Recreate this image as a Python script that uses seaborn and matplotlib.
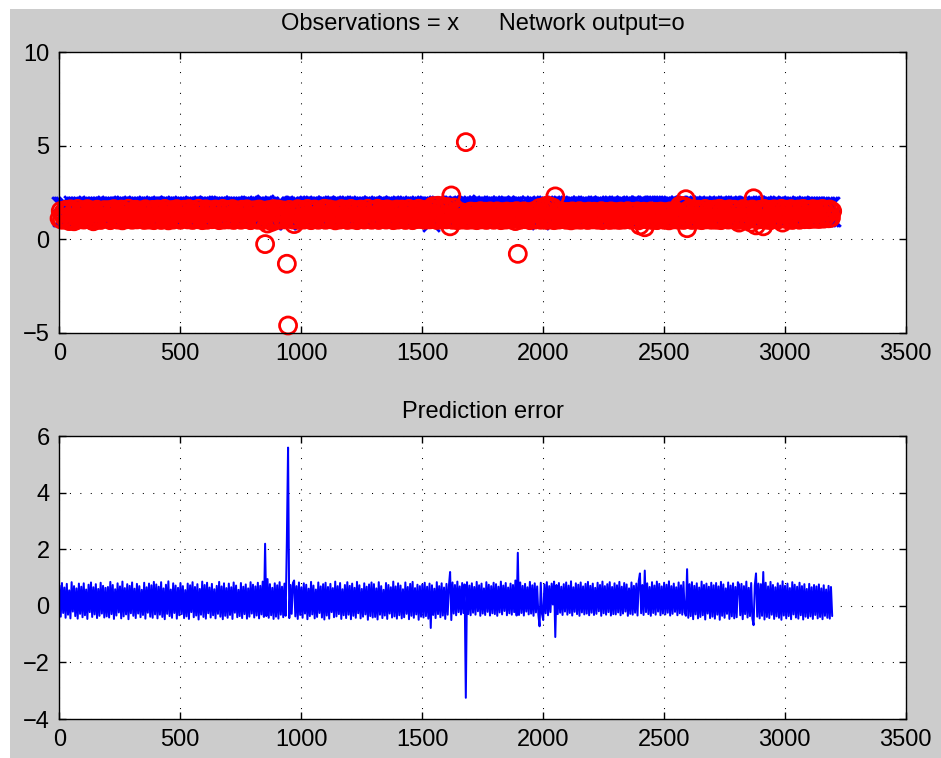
import numpy as np
import matplotlib
matplotlib.use("Agg")
import matplotlib.pyplot as plt
import seaborn as sns

# one sample every 5 steps
sample_step = 5

# network output (red circles), rows of 20 samples = 100 x-units each
network_output = [
    1.12, 1.52, 1.05, 1.41, 1.18, 1.58, 1.08, 1.47, 0.98, 1.61, 1.04, 1.38, 0.97, 1.50, 1.20, 1.63, 1.07, 1.44, 1.16, 1.55,
    1.06, 1.48, 1.26, 1.62, 1.09, 1.37, 1.05, 1.54, 0.97, 1.45, 1.08, 1.59, 1.22, 1.50, 1.04, 1.42, 1.13, 1.57, 1.19, 1.51,
    1.16, 1.57, 1.03, 1.43, 1.10, 1.62, 1.24, 1.49, 1.06, 1.39, 1.14, 1.60, 1.02, 1.53, 1.19, 1.46, 1.08, 1.64, 1.11, 1.40,
    1.05, 1.50, 1.21, 1.59, 1.07, 1.42, 1.13, 1.55, 1.26, 1.47, 1.04, 1.61, 1.17, 1.38, 1.06, 1.53, 1.10, 1.58, 1.03, 1.45,
    1.09, 1.60, 1.15, 1.46, 1.04, 1.54, 1.20, 1.63, 1.08, 1.43, 1.02, 1.51, 1.25, 1.57, 1.06, 1.40, 1.12, 1.62, 1.18, 1.48,
    1.05, 1.44, 1.13, 1.59, 1.27, 1.52, 1.07, 1.62, 1.11, 1.37, 1.04, 1.56, 1.16, 1.49, 1.08, 1.64, 1.22, 1.46, 1.03, 1.54,
    1.10, 1.61, 1.05, 1.41, 1.18, 1.57, 1.08, 1.48, 1.23, 1.60, 1.12, 1.43, 1.03, 1.53, 1.15, 1.63, 1.06, 1.50, 1.20, 1.58,
    1.07, 1.47, 1.17, 1.62, 1.04, 1.39, 1.12, 1.55, 1.26, 1.51, 1.05, 1.59, 1.15, 1.44, 1.09, 1.61, 1.21, 1.53, 1.03, 1.42,
    1.09, 1.56, 1.14, 1.49, 1.05, 1.60, 1.12, 1.46, 1.03, 1.54, -0.25, 1.51, 0.85, 1.57, 1.08, 1.48, 0.95, 1.62, 1.06, 1.53,
    1.11, 1.60, 1.05, 1.46, 1.15, 1.55, 1.07, 1.50, -1.30, -4.60, 1.58, 1.10, 1.43, 1.06, 0.82, 1.52, 1.13, 1.62, 1.04, 1.48,
    1.17, 1.58, 1.06, 1.42, 1.09, 1.63, 1.21, 1.52, 1.03, 1.45, 1.11, 1.60, 1.25, 1.55, 1.05, 1.40, 1.14, 1.57, 1.08, 1.64,
    1.05, 1.49, 1.16, 1.61, 1.08, 1.37, 1.19, 1.56, 1.02, 1.52, 1.13, 1.44, 1.06, 1.62, 1.24, 1.48, 1.10, 1.59, 1.04, 1.46,
    1.12, 1.63, 1.07, 1.50, 1.18, 1.57, 1.03, 1.41, 1.10, 1.60, 1.22, 1.53, 1.06, 1.45, 1.15, 1.64, 1.09, 1.51, 1.05, 1.56,
    1.08, 1.54, 1.20, 1.64, 1.04, 1.46, 1.13, 1.58, 1.26, 1.49, 1.06, 1.61, 1.10, 1.42, 1.17, 1.56, 1.03, 1.52, 1.14, 1.60,
    1.06, 1.48, 1.11, 1.60, 1.24, 1.55, 1.04, 1.43, 1.16, 1.63, 1.08, 1.50, 1.03, 1.57, 1.19, 1.45, 1.09, 1.64, 1.12, 1.53,
    1.09, 1.57, 1.05, 1.52, 1.15, 1.61, 1.07, 1.65, 1.10, 1.78, 1.21, 1.59, 1.04, 1.80, 1.13, 1.56, 1.06, 1.76, 1.18, 1.62,
    1.07, 1.72, 1.12, 0.70, 2.35, 1.05, 1.70, 1.10, 1.48, 1.03, 1.40, 1.15, 1.46, 1.06, 1.42, 1.09, 5.20, 1.04, 1.44, 1.11,
    1.49, 1.06, 1.40, 1.16, 1.47, 1.03, 1.36, 1.10, 1.51, 1.07, 1.43, 1.20, 1.48, 1.04, 1.38, 1.09, 1.50, 1.13, 1.41, 1.05,
    1.45, 1.08, 1.50, 1.14, 1.39, 1.03, 1.46, 1.11, 1.35, 1.06, 1.49, 1.18, 1.42, 1.07, 1.47, 1.10, 1.38, 0.98, 1.51, -0.77,
    1.48, 1.05, 1.41, 1.12, 1.50, 1.08, 1.37, 1.17, 1.46, 1.03, 1.43, 1.10, 1.51, 1.06, 1.39, 1.14, 1.47, 1.68, 1.05, 1.44,
    1.60, 1.08, 1.78, 1.04, 1.80, 1.12, 1.74, 1.07, 1.70, 1.03, 2.30, 1.10, 1.45, 1.06, 1.41, 1.15, 1.48, 1.09, 1.37, 1.05,
    1.47, 1.11, 1.42, 1.02, 1.50, 1.17, 1.38, 1.06, 1.45, 1.09, 1.51, 1.05, 1.40, 1.14, 1.46, 1.07, 1.43, 1.04, 1.49, 1.12,
    1.40, 1.07, 1.48, 1.19, 1.44, 1.05, 1.36, 1.10, 1.51, 1.03, 1.42, 1.13, 1.47, 1.08, 1.39, 1.04, 1.50, 1.16, 1.45, 1.06,
    1.46, 1.10, 1.39, 1.04, 1.49, 1.15, 1.43, 1.06, 1.37, 1.09, 1.51, 1.21, 1.44, 1.05, 1.47, 1.12, 1.40, 1.07, 1.50, 1.02,
    0.75, 1.42, 1.10, 1.48, 0.65, 1.38, 1.07, 1.45, 1.16, 1.50, 1.04, 1.41, 1.11, 1.47, 1.03, 1.36, 1.08, 1.49, 1.14, 1.43,
    1.05, 1.46, 1.09, 1.40, 1.02, 1.50, 1.13, 1.44, 1.07, 1.37, 1.17, 1.49, 1.05, 1.80, 1.10, 1.78, 1.04, 1.75, 2.15, 0.60,
    1.57, 1.08, 1.51, 1.04, 1.62, 1.12, 1.46, 1.06, 1.59, 1.18, 1.54, 1.03, 1.49, 1.10, 1.63, 1.07, 1.43, 1.15, 1.58, 1.05,
    1.53, 1.11, 1.60, 1.05, 1.47, 1.14, 1.64, 1.03, 1.50, 1.09, 1.57, 1.21, 1.44, 1.06, 1.61, 1.12, 1.52, 1.07, 1.59, 1.16,
    1.55, 1.04, 0.90, 1.49, 1.08, 1.62, 1.13, 1.45, 1.03, 1.56, 1.19, 1.51, 0.90, 1.60, 2.20, 1.10, 0.75, 1.53, 1.07, 1.58,
    1.09, 1.51, 0.70, 1.63, 1.05, 1.54, 1.15, 1.58, 1.03, 1.47, 1.10, 1.61, 1.17, 1.52, 1.06, 1.57, 1.12, 1.64, 0.90, 1.49,
    1.12, 1.59, 1.07, 1.52, 1.19, 1.62, 1.04, 1.46, 1.09, 1.56, 1.15, 1.60, 1.05, 1.49, 1.13, 1.63, 1.08, 1.53, 1.22, 1.58,
    1.08, 1.52, 1.17, 1.62, 1.10, 1.47, 1.14, 1.59, 1.09, 1.54, 1.20, 1.63, 1.11, 1.50, 1.25, 1.57, 1.13, 1.60, 1.16, 1.51,
]

# prediction error = observation - network output
prediction_error = [
    0.72, -0.38, 0.81, -0.25, 0.65, -0.42, 0.78, -0.31, 0.55, -0.44, 0.84, -0.20, 0.70, -0.36, 0.62, -0.45, 0.79, -0.28, 0.68, -0.40,
    0.80, -0.33, 0.58, -0.46, 0.75, -0.22, 0.83, -0.39, 0.66, -0.30, 0.77, -0.43, 0.60, -0.35, 0.82, -0.27, 0.71, -0.41, 0.64, -0.37,
    0.67, -0.41, 0.85, -0.29, 0.74, -0.46, 0.59, -0.34, 0.80, -0.23, 0.69, -0.44, 0.86, -0.37, 0.63, -0.30, 0.77, -0.47, 0.71, -0.26,
    0.83, -0.35, 0.61, -0.43, 0.78, -0.27, 0.70, -0.40, 0.57, -0.32, 0.82, -0.45, 0.66, -0.24, 0.79, -0.38, 0.73, -0.42, 0.85, -0.30,
    0.76, -0.44, 0.68, -0.31, 0.84, -0.39, 0.62, -0.47, 0.75, -0.28, 0.87, -0.36, 0.58, -0.42, 0.80, -0.25, 0.72, -0.45, 0.64, -0.33,
    0.81, -0.29, 0.70, -0.43, 0.56, -0.37, 0.79, -0.46, 0.73, -0.22, 0.84, -0.40, 0.67, -0.34, 0.77, -0.48, 0.60, -0.31, 0.86, -0.39,
    0.74, -0.45, 0.82, -0.26, 0.65, -0.41, 0.78, -0.33, 0.59, -0.44, 0.71, -0.28, 0.85, -0.38, 0.69, -0.47, 0.80, -0.35, 0.63, -0.42,
    0.79, -0.32, 0.66, -0.46, 0.83, -0.24, 0.72, -0.40, 0.57, -0.36, 0.81, -0.43, 0.68, -0.29, 0.76, -0.45, 0.62, -0.38, 0.84, -0.27,
    0.75, -0.41, 0.69, -0.34, 0.82, -0.44, 0.71, -0.30, 0.86, -0.39, 2.20, -0.36, 0.95, -0.42, 0.77, -0.33, 0.64, -0.46, 0.80, -0.38,
    0.73, -0.45, 0.84, -0.31, 0.68, -0.40, 0.79, -0.35, 2.30, 5.60, -0.43, 0.74, -0.28, 0.81, 0.90, -0.37, 0.70, -0.46, 0.83, -0.32,
    0.66, -0.42, 0.80, -0.27, 0.75, -0.47, 0.61, -0.36, 0.85, -0.30, 0.72, -0.44, 0.58, -0.39, 0.83, -0.25, 0.69, -0.41, 0.77, -0.48,
    0.82, -0.34, 0.67, -0.45, 0.78, -0.22, 0.63, -0.40, 0.86, -0.37, 0.70, -0.29, 0.81, -0.46, 0.59, -0.33, 0.74, -0.43, 0.84, -0.31,
    0.71, -0.47, 0.79, -0.35, 0.64, -0.42, 0.85, -0.26, 0.73, -0.44, 0.60, -0.38, 0.80, -0.30, 0.68, -0.49, 0.76, -0.36, 0.83, -0.41,
    0.77, -0.39, 0.62, -0.48, 0.84, -0.31, 0.70, -0.43, 0.57, -0.34, 0.81, -0.46, 0.74, -0.27, 0.66, -0.41, 0.86, -0.37, 0.69, -0.45,
    0.80, -0.33, 0.72, -0.44, 0.59, -0.40, 0.83, -0.28, 0.67, -0.47, 0.78, -0.35, 0.85, -0.42, 0.63, -0.30, 0.75, -0.49, 0.70, -0.38,
    0.76, -0.41, 0.82, -0.36, 0.68, -0.45, 0.79, -0.78, 0.73, -0.32, 0.61, -0.43, 0.84, -0.29, 0.70, -0.40, 0.80, -0.34, 0.65, -0.46,
    0.78, -0.31, 0.70, 1.20, -0.50, 0.83, -0.27, 0.74, -0.33, 0.86, -0.22, 0.69, -0.30, 0.81, -0.25, 0.76, -3.25, 0.84, -0.29, 0.72,
    -0.33, 0.80, -0.24, 0.67, -0.31, 0.85, -0.19, 0.73, -0.35, 0.79, -0.27, 0.62, -0.32, 0.84, -0.21, 0.75, -0.34, 0.70, -0.26, 0.82,
    -0.29, 0.77, -0.35, 0.68, -0.23, 0.86, -0.30, 0.72, -0.18, 0.81, -0.33, 0.65, -0.26, 0.79, -0.31, 0.74, -0.22, 0.90, -0.34, 1.88,
    -0.32, 0.83, -0.25, 0.71, -0.34, 0.78, -0.20, 0.66, -0.30, 0.85, -0.27, 0.73, -0.35, 0.80, -0.23, 0.69, -0.31, -0.72, 0.82, -0.28,
    -0.50, 0.76, -0.26, 0.84, -0.33, 0.70, -0.22, 0.79, 0.05, 0.86, -1.10, 0.74, -0.29, 0.81, -0.24, 0.68, -0.32, 0.77, -0.20, 0.83,
    -0.31, 0.72, -0.25, 0.87, -0.34, 0.66, -0.21, 0.80, -0.29, 0.75, -0.35, 0.83, -0.23, 0.69, -0.30, 0.78, -0.27, 0.85, -0.33, 0.71,
    -0.24, 0.79, -0.32, 0.64, -0.28, 0.82, -0.19, 0.74, -0.35, 0.86, -0.26, 0.70, -0.31, 0.77, -0.22, 0.84, -0.34, 0.67, -0.29, 0.80,
    -0.30, 0.73, -0.23, 0.85, -0.33, 0.68, -0.27, 0.81, -0.20, 0.76, -0.35, 0.62, -0.28, 0.83, -0.31, 0.71, -0.24, 0.79, -0.34, 0.88,
    1.15, -0.26, 0.74, -0.32, 1.25, -0.22, 0.80, -0.29, 0.67, -0.35, 0.84, -0.25, 0.72, -0.31, 0.86, -0.20, 0.78, -0.33, 0.69, -0.27,
    0.82, -0.30, 0.75, -0.24, 0.87, -0.34, 0.70, -0.28, 0.79, -0.21, 0.66, -0.33, 0.83, -0.26, 0.73, -0.31, 0.85, -0.23, -0.35, 1.30,
    -0.42, 0.77, -0.36, 0.84, -0.47, 0.71, -0.30, 0.80, -0.44, 0.65, -0.39, 0.86, -0.33, 0.74, -0.48, 0.79, -0.27, 0.68, -0.43, 0.82,
    -0.38, 0.73, -0.45, 0.81, -0.31, 0.69, -0.49, 0.85, -0.35, 0.76, -0.42, 0.62, -0.28, 0.83, -0.46, 0.72, -0.37, 0.80, -0.44, 0.67,
    -0.40, 0.84, 0.75, -0.33, 0.78, -0.47, 0.70, -0.29, 0.86, -0.41, 0.64, -0.36, 0.81, -0.45, -0.68, 0.73, 1.15, -0.38, 0.79, -0.44,
    0.77, -0.35, 1.20, -0.48, 0.82, -0.39, 0.69, -0.43, 0.85, -0.31, 0.74, -0.46, 0.66, -0.37, 0.80, -0.42, 0.72, -0.49, 0.87, -0.34,
    0.71, -0.44, 0.79, -0.36, 0.63, -0.47, 0.84, -0.30, 0.75, -0.41, 0.68, -0.45, 0.82, -0.33, 0.70, -0.48, 0.77, -0.38, 0.60, -0.43,
    0.78, -0.37, 0.66, -0.46, 0.74, -0.32, 0.69, -0.44, 0.76, -0.39, 0.62, -0.47, 0.73, -0.35, 0.58, -0.42, 0.71, -0.45, 0.67, -0.36,
]

x_ticks = [0, 500, 1000, 1500, 2000, 2500, 3000, 3500]
top_yticks = [-5, 0, 5, 10]
bottom_yticks = [-4, -2, 0, 2, 4, 6]

assert len(network_output) == len(prediction_error)
sample_index = np.arange(len(network_output)) * sample_step + 1
observations = np.array(network_output) + np.array(prediction_error)

sns.set_style("ticks")
plt.rcParams['font.family'] = ['Liberation Sans', 'DejaVu Sans']
plt.rcParams['font.size'] = 17
plt.rcParams['text.color'] = 'black'
plt.rcParams['axes.titlecolor'] = 'black'

W, H = 941, 758
fig = plt.figure(figsize=(W / 100, H / 100), dpi=100)
fig.patch.set_facecolor('white')
# matlab style grey window
fig.add_artist(plt.Rectangle((10 / W, 0), 1, 1 - 9 / H, transform=fig.transFigure,
                             facecolor='#cccccc', edgecolor='none', zorder=-10))

ax1 = fig.add_axes([59.3 / W, 1 - 333 / H, 846.4 / W, (333 - 52.3) / H])
ax2 = fig.add_axes([59.3 / W, 1 - 719 / H, 846.4 / W, (719 - 436.3) / H])

sns.scatterplot(x=sample_index, y=observations, marker='x', color='blue', s=144,
                linewidth=2.0, ax=ax1, clip_on=False, legend=False, zorder=3)
sns.scatterplot(x=sample_index, y=network_output, marker='o', s=150,
                facecolors='none', edgecolors='red', linewidth=2.0,
                ax=ax1, clip_on=False, legend=False, zorder=4)

sns.lineplot(x=sample_index, y=prediction_error, color='blue', linewidth=1.45,
             estimator=None, ax=ax2, zorder=3)

for ax, yt in ((ax1, top_yticks), (ax2, bottom_yticks)):
    ax.set_facecolor('white')
    ax.set_xlim(0, 3500)
    ax.set_ylim(yt[0], yt[-1])
    ax.set_xticks(x_ticks)
    ax.set_yticks(yt)
    ax.set_xlabel('')
    ax.set_ylabel('')
    ax.set_axisbelow(True)
    ax.grid(True, color='black', linestyle=(0, (1, 9)), linewidth=0.75)
    ax.tick_params(direction='in', length=5, width=1, top=True, right=True,
                   pad=7, labelsize=17, colors='black')
    for sp in ax.spines.values():
        sp.set_visible(True)
        sp.set_linewidth(1.0)
        sp.set_color('black')
        sp.set_zorder(5)

ax1.set_title("Observations = x      Network output=o", fontsize=17, pad=16, color='black')
ax2.set_title("Prediction error", fontsize=17, pad=13, color='black')

fig.savefig("out.png", dpi=100)
